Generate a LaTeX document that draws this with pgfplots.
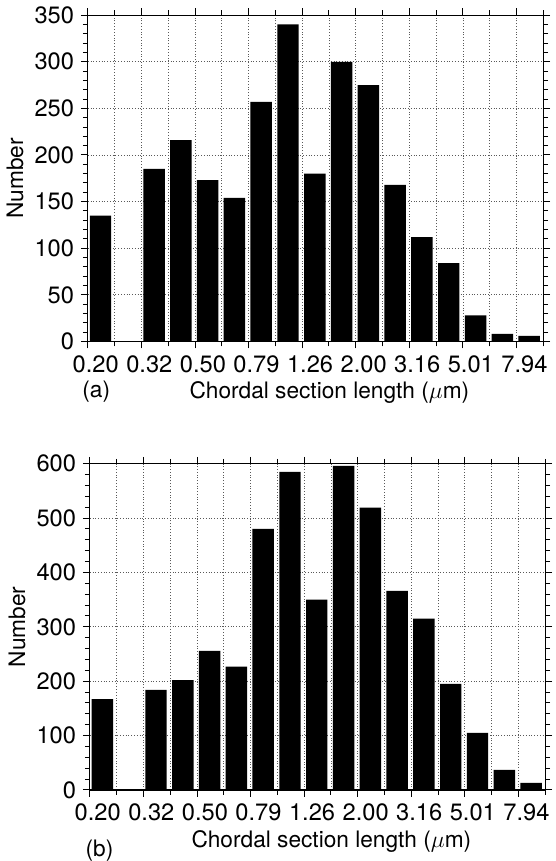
\documentclass[border=0pt]{standalone}
\usepackage{fontspec}
\setmainfont{TeX Gyre Heros}
\usepackage{pgfplots}
\pgfplotsset{compat=1.18}

\pgfplotsset{
  histo/.style={
    scale only axis,
    width=231pt, height=165.5pt,
    xmin=0, xmax=17, ymin=0,
    xtick={0,2,...,16},
    xticklabels={0.20,0.32,0.50,0.79,1.26,2.00,3.16,5.01,7.94},
    minor xtick={1,3,...,17},
    xmajorgrids, xminorgrids, ymajorgrids,
    grid style={densely dotted, black!65, line width=0.45pt},
    minor grid style={densely dotted, black!65, line width=0.45pt},
    axis line style={line width=0.6pt},
    tick align=outside,
    major tick length=3.5pt, minor tick length=2.5pt,
    tick style={black, line width=0.5pt},
    minor y tick num=4,
    /pgf/number format/assume math mode=true,
    tick label style={font=\fontsize{12}{14}\selectfont},
    xticklabel style={xshift=4pt},
    label style={font=\fontsize{11.5}{13}\selectfont},
    xlabel={Chordal section length ($\mu$m)},
    ylabel={Number},
    xlabel style={at={(axis description cs:0.5,0)}, anchor=north, yshift=-17pt, xshift=7pt},
    ylabel style={at={(axis description cs:-0.16,0.5)}, anchor=center},
    clip=false,
  }
}

\begin{document}
\begin{tikzpicture}
% (a)
\begin{axis}[histo, ymax=350, ytick={0,50,...,350}]
\addplot[ybar, fill=black, draw=none, bar width=0.8] coordinates {
  (0.47,135) (1.47,0) (2.47,185) (3.47,216) (4.47,173) (5.47,154)
  (6.47,257) (7.47,340) (8.47,180) (9.47,300) (10.47,275) (11.47,168)
  (12.47,112) (13.47,84) (14.47,28) (15.47,8) (16.47,6)
};
\node[anchor=north west, font=\fontsize{11.5}{13}\selectfont, inner sep=0pt]
  at (axis description cs:-0.013,0) [yshift=-20pt] {(a)};
\end{axis}
% (b)
\begin{axis}[histo, at={(1pt,-227.5pt)}, ymax=600, ytick={0,100,...,600}]
\addplot[ybar, fill=black, draw=none, bar width=0.8] coordinates {
  (0.47,167) (1.47,0) (2.47,184) (3.47,202) (4.47,256) (5.47,227)
  (6.47,480) (7.47,585) (8.47,350) (9.47,596) (10.47,519) (11.47,366)
  (12.47,315) (13.47,195) (14.47,105) (15.47,37) (16.47,13)
};
\node[anchor=north west, font=\fontsize{11.5}{13}\selectfont, inner sep=0pt]
  at (axis description cs:-0.01,0) [yshift=-25pt] {(b)};
\end{axis}
\end{tikzpicture}
\end{document}
